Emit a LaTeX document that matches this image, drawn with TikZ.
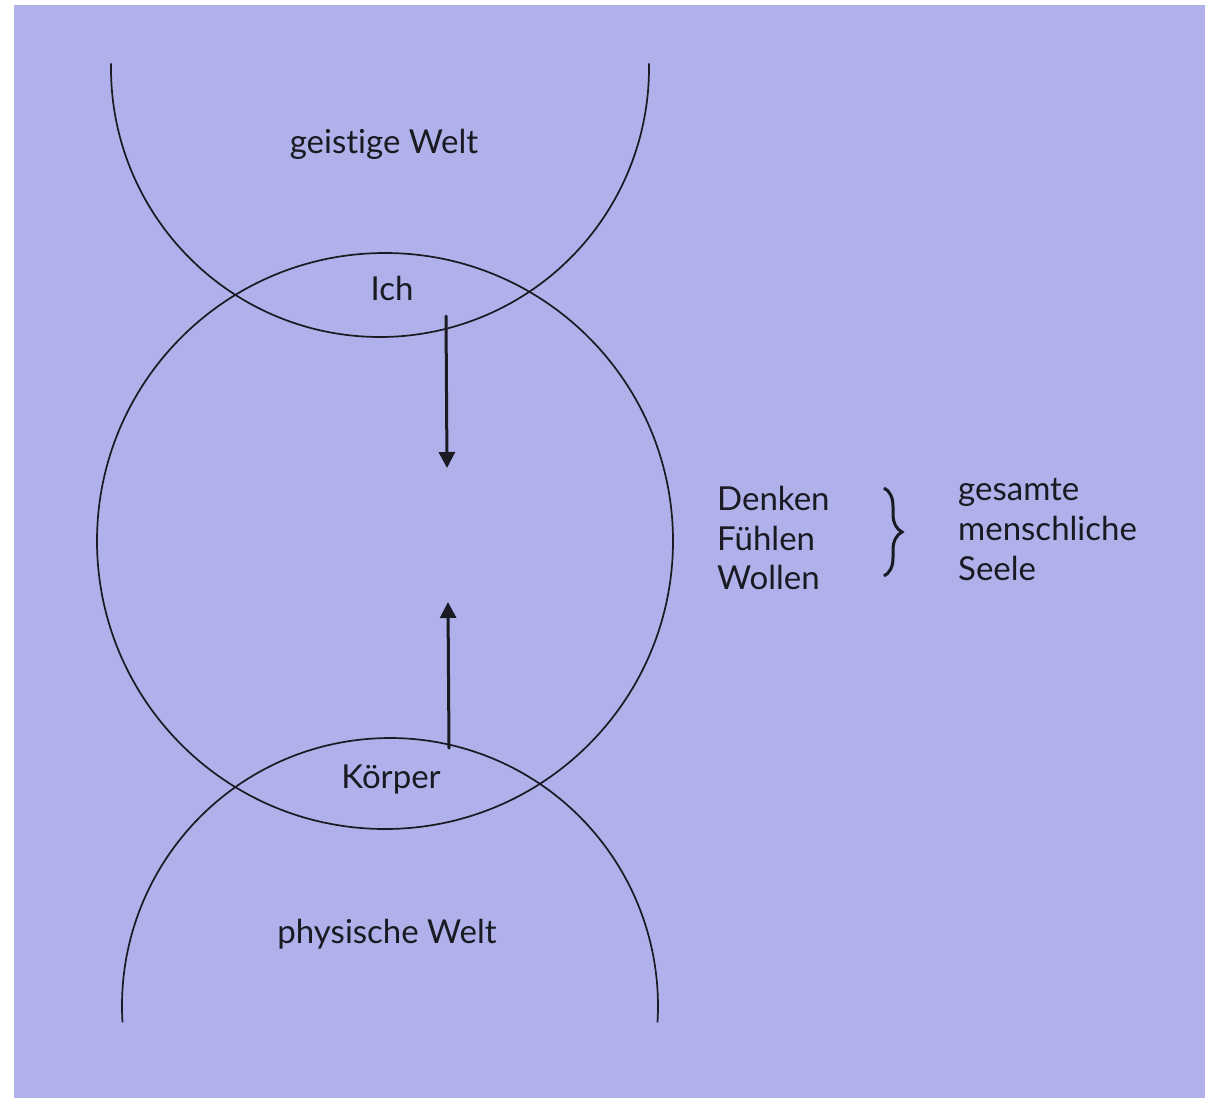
\documentclass[tikz,border=0pt]{standalone}
\usepackage{fontspec}
\setmainfont{Lato}[Ligatures={NoCommon}]
\usetikzlibrary{arrows.meta,decorations.pathreplacing}
\definecolor{bgpurple}{HTML}{B0B0EA}
\definecolor{inkcol}{HTML}{1A1A22}
\begin{document}
\begin{tikzpicture}[x=1pt,y=-1pt,
  ink/.style={line width=1.7pt, draw=inkcol},
  pointer/.style={line width=3pt, draw=inkcol, line cap=round, -{Triangle[width=16pt,length=16pt]}},
  lbl/.style={font=\fontsize{33}{40}\selectfont, text=inkcol, anchor=base, inner sep=0pt},
  lblw/.style={lbl, anchor=base west},
  bracestyle/.style={line width=3pt, draw=inkcol, decorate, decoration={brace, amplitude=18pt}},
]
\useasboundingbox (0,0) rectangle (1205,1098);
\fill[bgpurple] (14,5) rectangle (1205,1098);
% soul circle
\node[circle, ink, minimum size=576pt, inner sep=0pt] (seelekreis) at (385,541) {};
% spiritual world (top arc)
\draw[ink] (380,68) ++(181:269) arc[start angle=181, end angle=-1, radius=269];
% physical world (bottom arc)
\draw[ink] (390,1006) ++(176.5:268) arc[start angle=176.5, end angle=363.5, radius=268];
% arrows
\coordinate (ichfrom) at (446,316);
\coordinate (ichto) at (447,468);
\coordinate (kfrom) at (449,748);
\coordinate (kto) at (448,602);
\draw[pointer] (ichfrom) -- (ichto);
\draw[pointer] (kfrom) -- (kto);
% labels
\node[lbl] (geist) at (384,153) {geistige Welt};
\node[lbl] (ich) at (392,300) {Ich};
\node[lbl] (koerper) at (391,788) {Körper};
\node[lbl] (phys) at (387,943) {physische Welt};
\node[lblw] (denken) at (717,510) {Denken};
\node[lblw] (fuehlen) at (717,550) {Fühlen};
\node[lblw] (wollen) at (717,589) {Wollen};
\node[lblw] (gesamte) at (958,500) {gesamte};
\node[lblw] (menschl) at (958,540) {menschliche};
\node[lblw] (seeletxt) at (958,580) {Seele};
% brace
\coordinate (btop) at (884,488);
\coordinate (bbot) at (884,576);
\draw[bracestyle] (btop) -- (bbot);
\end{tikzpicture}
\end{document}
